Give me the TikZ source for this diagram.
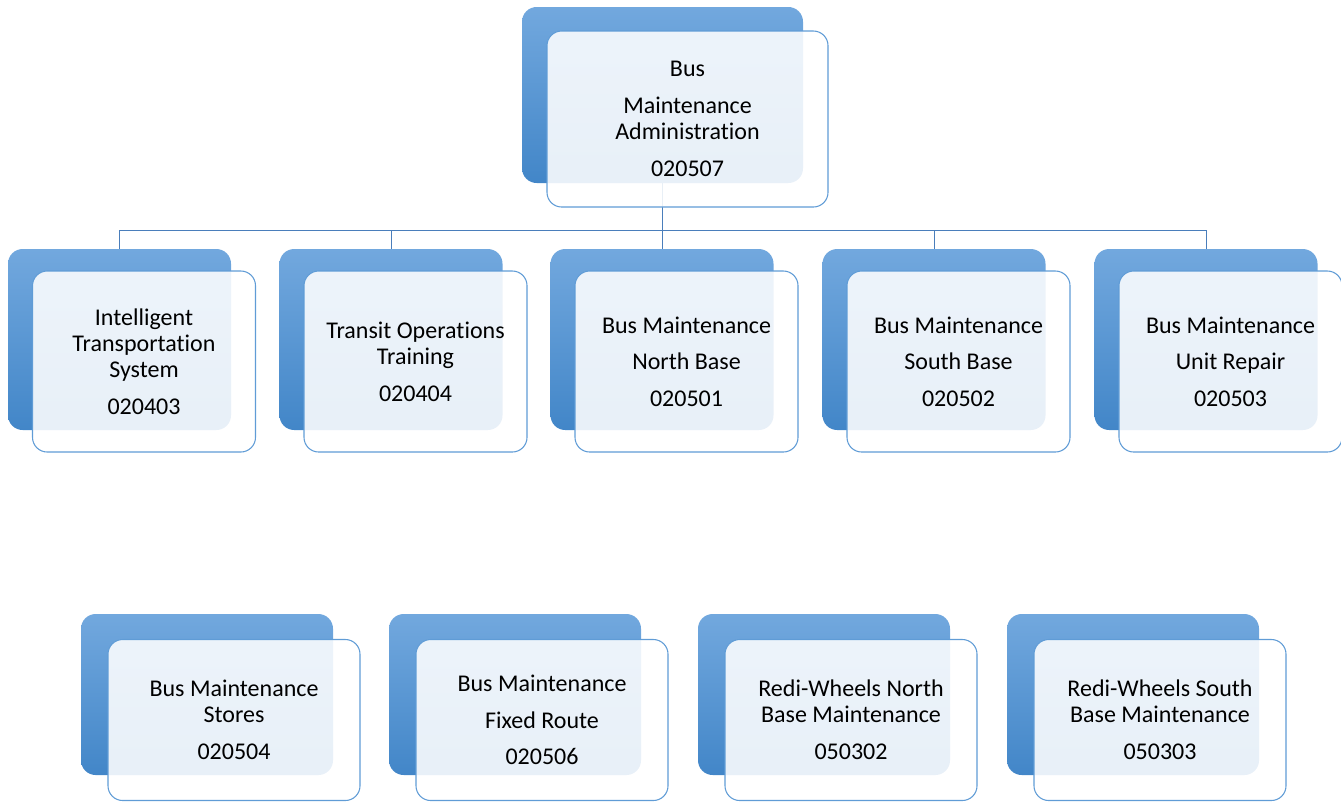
\documentclass[tikz,border=0pt]{standalone}
\usepackage{fontspec}
\setmainfont{Carlito}[Ligatures={NoCommon,NoContextual,NoRare}, RawFeature={-liga;-clig;-calt;-dlig}]
\usepackage{xcolor}
\usepackage{tikz}
\usetikzlibrary{positioning,backgrounds}

\definecolor{tabtop}{RGB}{114,168,222}
\definecolor{tabbot}{RGB}{66,134,200}
\definecolor{cardline}{RGB}{96,156,214}
\definecolor{linkblue}{RGB}{74,126,187}

\begin{document}
\begin{tikzpicture}[x=0.75pt, y=-0.75pt, font=\fontsize{18}{19.5}\selectfont,
  tab/.style={rounded corners=11pt, inner sep=0pt, draw=none, top color=tabtop, bottom color=tabbot},
  card/.style={rounded corners=11pt, inner sep=0pt, draw=cardline, line width=0.8pt,
               fill=white, fill opacity=0.88, text opacity=1, align=center},
  wide/.style={minimum width=210.75pt, minimum height=132pt},
  mid/.style={minimum width=167.25pt, minimum height=135.75pt},
  low/.style={minimum width=189pt, minimum height=120.75pt},
  link/.style={draw=linkblue, line width=0.75pt}]
  \useasboundingbox (0,0) rectangle (1341,801);

  % head of the section
  \node[tab, wide] (adm) at (662.5,95) {};
  \node[card, wide] (adm-c) at ([shift={(25,24)}]adm.center)
    {Bus\\[8pt]Maintenance\\Administration\\[8pt]020507};

  % first row, hung on the bus line
  \foreach \x/\lab/\txt in {119.5/its/{Intelligent\\Transportation\\System\\[8pt]020403},
                            391/tot/{Transit Operations\\Training\\[8pt]020404},
                            662/nb/{Bus Maintenance\\[8pt]North Base\\[8pt]020501},
                            934/sb/{Bus Maintenance\\[8pt]South Base\\[8pt]020502},
                            1206/ur/{Bus Maintenance\\[8pt]Unit Repair\\[8pt]020503}}{
    \node[tab, mid] (\lab) at (\x,339.5) {};
    \node[card, mid] (\lab-c) at ([shift={(24.5,22)}]\lab.center) {\txt};
  }

  % second row, no connectors
  \foreach \x/\lab/\txt in {207/sto/{Bus Maintenance\\Stores\\[8pt]020504},
                            515/fxr/{Bus Maintenance\\[8pt]Fixed Route\\[8pt]020506},
                            824/rwn/{Redi-Wheels North\\Base Maintenance\\[8pt]050302},
                            1133/rws/{Redi-Wheels South\\Base Maintenance\\[8pt]050303}}{
    \node[tab, low] (\lab) at (\x,694.5) {};
    \node[card, low] (\lab-c) at ([shift={(27,25.5)}]\lab.center) {\txt};
  }

  \coordinate (bus) at (662.5,230);
  \begin{scope}[on background layer]
    \foreach \n in {its,tot,nb,sb,ur}
      \draw[link] (adm.south) |- (bus) -| (\n.north);
  \end{scope}
\end{tikzpicture}
\end{document}
